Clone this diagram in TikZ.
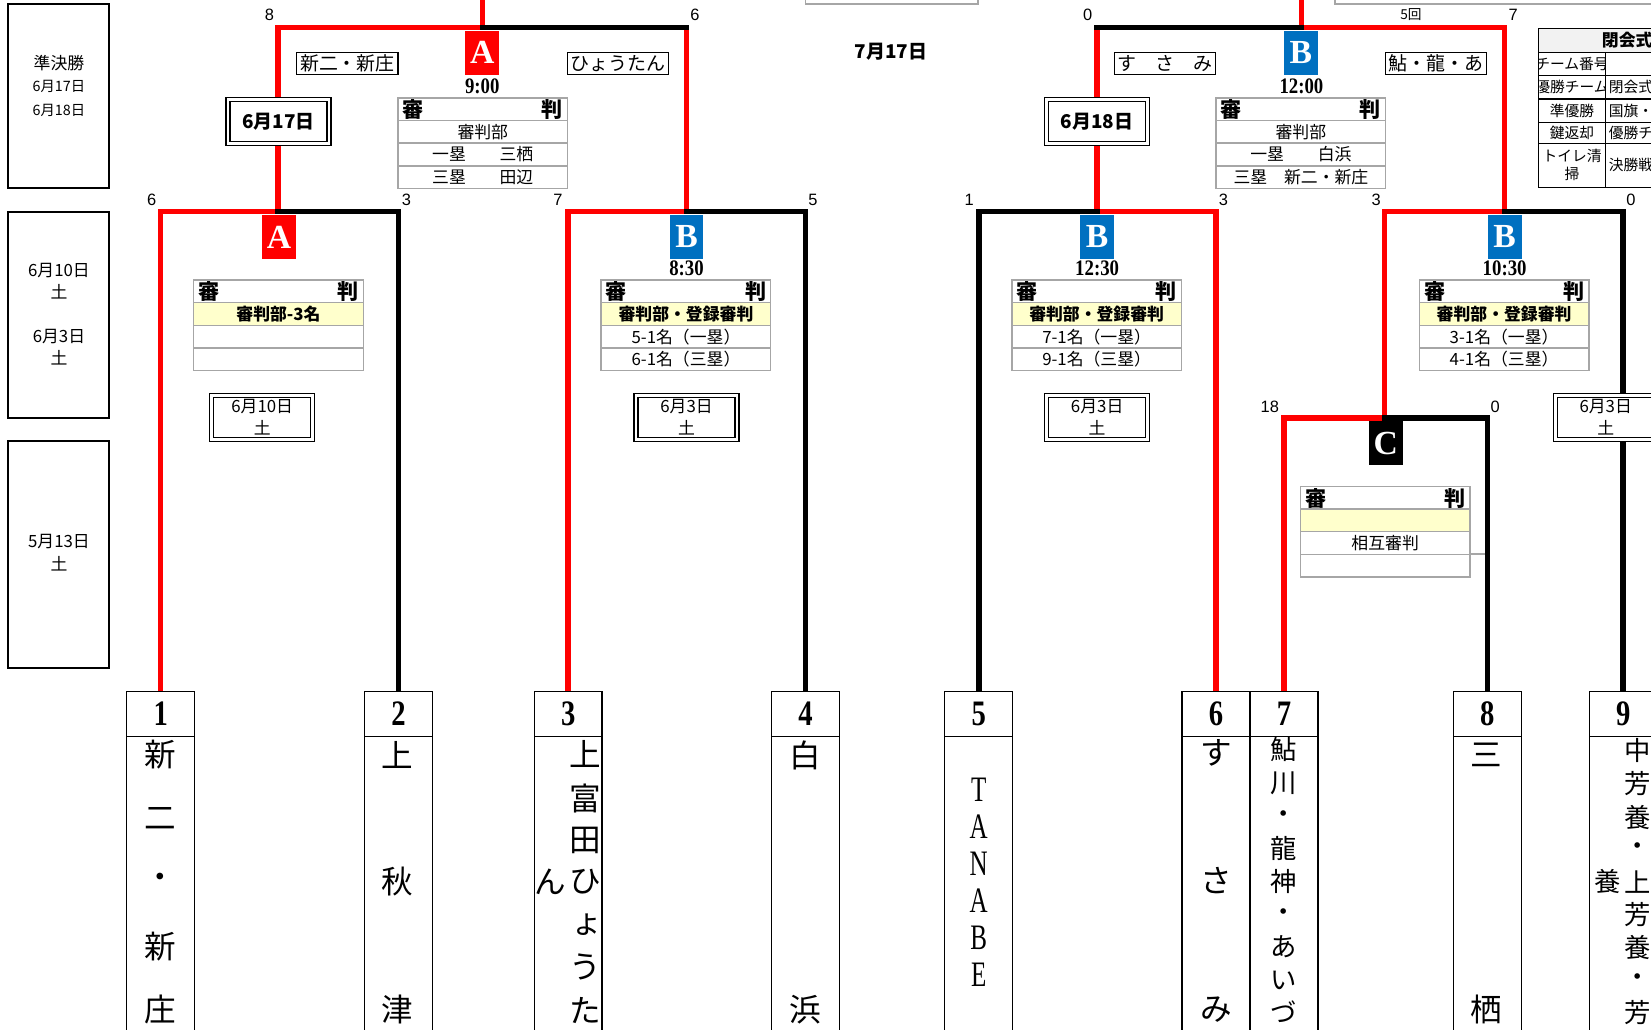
\documentclass[tikz,border=0pt]{standalone}
\usepackage{fontspec}
\setmainfont{Liberation Serif}
\newfontfamily\jp{Noto Sans CJK JP}
\newfontfamily\numf[FakeStretch=0.8]{Liberation Serif}
\newfontfamily\timef[FakeStretch=0.85]{Liberation Serif}
\newfontfamily\narf[FakeStretch=0.7]{Liberation Serif}
\newfontfamily\sansf{Liberation Sans}
\usetikzlibrary{backgrounds}
\definecolor{xred}{HTML}{FF0000}
\definecolor{xblue}{HTML}{0070C0}
\definecolor{xyel}{HTML}{FFFFCC}
\definecolor{xgray}{HTML}{A6A6A6}
\definecolor{hdrgray}{HTML}{F2F2F2}
\newcommand\RefTable[7]{%
  \fill[#4] (#2,#3+21.5) rectangle (#2+161,#3+43);
  \draw[tblline] (#2,#3) rectangle (#2+161,#3+86);
  \draw[tblline] (#2,#3+21.5) -- (#2+161,#3+21.5);
  \draw[tblline] (#2,#3+43) -- (#2+161,#3+43);
  \draw[tblline] (#2,#3+64.5) -- (#2+161,#3+64.5);
  \node[hdr,anchor=west] (#1a) at (#2+4,#3+11) {審};
  \node[hdr,anchor=east] (#1b) at (#2+157,#3+11) {判};
  \node[rowt] (#1c) at (#2+80.5,#3+32.25) {#5};
  \node[rowt] (#1d) at (#2+80.5,#3+53.75) {#6};
  \node[rowt] (#1e) at (#2+80.5,#3+75.25) {#7};
}
\begin{document}
\begin{tikzpicture}[x=0.5pt,y=-0.5pt,
  redln/.style={draw=xred,line width=2.6pt,line join=miter},
  blkln/.style={draw=black,line width=2.6pt,line join=miter,line cap=rect},
  mbox/.style={anchor=north,minimum width=16pt,minimum height=21pt,inner sep=0pt,text=white,font=\bfseries\fontsize{16}{16}\selectfont},
  numcell/.style={draw,line width=0.6pt,fill=white,minimum width=32.25pt,minimum height=21.5pt,inner sep=0pt,anchor=north west,font=\numf\bfseries\fontsize{17}{17}\selectfont},
  namecell/.style={draw,line width=0.6pt,fill=white,minimum width=32.25pt,minimum height=150pt,inner sep=0pt,anchor=north west},
  tch/.style={font=\jp\fontsize{15}{15}\selectfont,inner sep=0pt},
  tchs/.style={font=\jp\fontsize{12.5}{12.5}\selectfont,inner sep=0pt},
  tlat/.style={font=\narf\fontsize{17}{17}\selectfont,inner sep=0pt},
  score/.style={font=\sansf\fontsize{7.8}{7.8}\selectfont,inner sep=0pt},
  timel/.style={font=\timef\bfseries\fontsize{10.5}{10.5}\selectfont,inner sep=0pt},
  lblbox/.style={draw,line width=0.5pt,fill=white,minimum width=48pt,minimum height=10.5pt,inner sep=0pt,font=\jp\fontsize{9}{9}\selectfont},
  datebox/.style={draw,line width=0.7pt,double=white,double distance=1.2pt,fill=white,minimum width=47.9pt,minimum height=20.9pt,inner sep=0pt,align=center,font=\jp\fontsize{8}{10.5}\selectfont},
  colbox/.style={draw,line width=0.9pt},
  coltxt/.style={font=\jp\fontsize{8}{8}\selectfont,inner sep=0pt},
  coltxs/.style={font=\jp\fontsize{6.8}{6.8}\selectfont,inner sep=0pt},
  tblline/.style={draw=xgray,line width=0.7pt},
  hdr/.style={font=\jp\bfseries\fontsize{10}{10}\selectfont,inner sep=0pt},
  rowt/.style={font=\jp\fontsize{8}{8}\selectfont,inner sep=0pt},
  rtxt/.style={font=\jp\fontsize{7}{8.5}\selectfont,inner sep=0pt,align=center},
  rline/.style={draw=black,line width=0.6pt}]
\useasboundingbox (0,0) rectangle (1568,978);
\clip (0,0) rectangle (1568,978);

% partial boxes at the top edge
\draw[tblline] (765,-10) rectangle (929,4);
\draw[tblline] (1268,-10) rectangle (1700,4);

% left column of round dates
\draw[colbox] (7.5,3.8) rectangle (103.5,178.3);
\draw[colbox] (7.5,201) rectangle (103.5,396.7);
\draw[colbox] (7.5,418.5) rectangle (103.5,634);
\node[coltxt] (lc1) at (56,60) {準決勝};
\node[coltxs] (lc2) at (56,82) {6月17日};
\node[coltxs] (lc3) at (56,104.5) {6月18日};
\node[coltxt] (lc4) at (56,256.5) {6月10日};
\node[coltxt] (lc5) at (56,277) {土};
\node[coltxt] (lc6) at (56,320) {6月3日};
\node[coltxt] (lc7) at (56,340) {土};
\node[coltxt] (lc8) at (56,514.5) {5月13日};
\node[coltxt] (lc9) at (56,535) {土};

% junctions
\coordinate (fL) at (458,26);
\coordinate (tL) at (458,-6);
\coordinate (sL2) at (652,26);
\coordinate (mA) at (264,201);
\coordinate (mB1) at (652,201);
\coordinate (fR) at (1236,26);
\coordinate (tR) at (1236,-6);
\coordinate (sR1) at (1042,26);
\coordinate (mB2) at (1042,201);
\coordinate (mB3) at (1429,201);
\coordinate (mC) at (1315,397);

% team boxes
\node[numcell] (n1) at (119.75,656) {1};
\node[numcell] (n2) at (345.75,656) {2};
\node[numcell] (n3) at (506.75,656) {3};
\node[numcell] (n4) at (732.25,656) {4};
\node[numcell] (n5) at (896.75,656) {5};
\node[numcell] (n6) at (1122,656) {6};
\node[numcell] (n7) at (1186.5,656) {7};
\node[numcell] (n8) at (1379.75,656) {8};
\node[numcell] (n9) at (1508.75,656) {9};
\node[namecell] (m1) at (119.75,699) {};
\node[namecell] (m2) at (345.75,699) {};
\node[namecell] (m3) at (506.75,699) {};
\node[namecell] (m4) at (732.25,699) {};
\node[namecell] (m5) at (896.75,699) {};
\node[namecell] (m6) at (1122,699) {};
\node[namecell] (m7) at (1186.5,699) {};
\node[namecell] (m8) at (1379.75,699) {};
\node[namecell] (m9) at (1508.75,699) {};

% bracket lines (behind)
\begin{scope}[on background layer]
\fill[white] (0,0) rectangle (1568,978);
\draw[redln] (n1.north) |- (mA) |- (fL) -- (tL);
\draw[redln] (n3.north) |- (mB1) -- (sL2);
\draw[redln] (n7.north) |- (mC) |- (mB3) |- (fR) -- (tR);
\draw[redln] (n6.north) |- (mB2) -- (sR1);
\draw[blkln] (n2.north) |- (mA);
\draw[blkln] (n4.north) |- (mB1);
\draw[blkln] (sL2) -- (fL);
\draw[blkln] (n5.north) |- (mB2);
\draw[blkln] (n8.north) |- (mC);
\draw[blkln] (n9.north) |- (mB3);
\draw[blkln] (sR1) -- (fR);
\end{scope}

% match letters
\node[mbox,fill=xred] (gA1) at (458,28.6) {A};
\node[mbox,fill=xblue] (gB1) at (1235.5,28.6) {B};
\node[mbox,fill=xred] (gA2) at (265,203.6) {A};
\node[mbox,fill=xblue] (gB2) at (652,203.6) {B};
\node[mbox,fill=xblue] (gB3) at (1042,203.6) {B};
\node[mbox,fill=xblue] (gB4) at (1429,203.6) {B};
\node[mbox,fill=black] (gC) at (1316,399.6) {C};

% times
\node[timel] (tm1) at (458,82) {9:00};
\node[timel] (tm2) at (1236,82) {12:00};
\node[timel] (tm3) at (652,255) {8:30};
\node[timel] (tm4) at (1042,255) {12:30};
\node[timel] (tm5) at (1429,255) {10:30};

% scores
\node[score] (s1) at (256,14.3) {8};
\node[score] (s2) at (660,14.3) {6};
\node[score] (s3) at (1033,14.3) {0};
\node[font=\jp\fontsize{6.5}{6.5}\selectfont,inner sep=0pt] (s4) at (1340,14.3) {5回};
\node[score] (s5) at (1437,14.3) {7};
\node[score] (s6) at (144,190) {6};
\node[score] (s7) at (386,190) {3};
\node[score] (s8) at (530,190) {7};
\node[score] (s9) at (772,190) {5};
\node[score] (s10) at (920.5,190) {1};
\node[score] (s11) at (1162,190) {3};
\node[score] (s12) at (1307,190) {3};
\node[score] (s13) at (1549,190) {0};
\node[score] (s14) at (1206,386.5) {18};
\node[score] (s15) at (1420,386.5) {0};

% day label
\node[font=\jp\bfseries\fontsize{9}{9}\selectfont,inner sep=0pt] (day) at (846,49) {7月17日};

% team short labels
\node[lblbox] (l1) at (330,60.5) {新二・新庄};
\node[lblbox] (l2) at (587,60.5) {ひょうたん};
\node[lblbox] (l3) at (1106.5,60.5) {す　さ　み};
\node[lblbox] (l4) at (1364,60.5) {鮎・龍・あ};

% date boxes
\node[datebox,font=\jp\bfseries\fontsize{9}{9}\selectfont] (d1) at (264.5,115.5) {6月17日};
\node[datebox,font=\jp\bfseries\fontsize{9}{9}\selectfont] (d2) at (1042,115.5) {6月18日};
\node[datebox] (d3) at (249,396.5) {6月10日\\土};
\node[datebox] (d4) at (652,396.5) {6月3日\\土};
\node[datebox] (d5) at (1042,396.5) {6月3日\\土};
\node[datebox] (d6) at (1525,396.5) {6月3日\\土};

% referee tables
\RefTable{rA}{378}{93}{white}{審判部}{一塁　　三栖}{三塁　　田辺}
\RefTable{rB}{1155}{93}{white}{審判部}{一塁　　白浜}{三塁　新二・新庄}
\RefTable{rC}{184}{266}{xyel}{\bfseries 審判部-3名}{}{}
\RefTable{rD}{571}{266}{xyel}{\bfseries 審判部・登録審判}{5-1名（一塁）}{6-1名（三塁）}
\RefTable{rE}{961}{266}{xyel}{\bfseries 審判部・登録審判}{7-1名（一塁）}{9-1名（三塁）}
\RefTable{rF}{1348}{266}{xyel}{\bfseries 審判部・登録審判}{3-1名（一塁）}{4-1名（三塁）}
\RefTable{rG}{1235}{462}{xyel}{}{相互審判}{}
\draw[tblline] (1396,526) -- (1410,526);

% closing ceremony table (cut at the right edge)
\fill[hdrgray] (1461,27) rectangle (1700,50);
\draw[rline] (1461,27) rectangle (1700,178);
\foreach \yy in {50,72,94,116,136} \draw[rline] (1461,\yy) -- (1700,\yy);
\draw[rline] (1525,50) -- (1525,178);
\node[font=\jp\bfseries\fontsize{8}{8}\selectfont,inner sep=0pt,anchor=west] (ch) at (1521,38.5) {閉会式};
\begin{scope}
\clip (1462,50) rectangle (1524.5,136);
\node[rtxt] (cl1) at (1493,61) {チーム番号};
\node[rtxt] (cl2) at (1493,83) {優勝チーム};
\end{scope}
\node[rtxt] (cl3) at (1493,105) {準優勝};
\node[rtxt] (cl4) at (1493,126) {鍵返却};
\node[rtxt] (cl5) at (1493,157) {トイレ清\\掃};
\node[rtxt,anchor=west] (cr2) at (1527.5,83) {閉会式};
\node[rtxt,anchor=west] (cr3) at (1527.5,105) {国旗・};
\node[rtxt,anchor=west] (cr4) at (1527.5,126) {優勝チ};
\node[rtxt,anchor=west] (cr5) at (1527.5,157) {決勝戦};

% team names (vertical)
\foreach \ch/\yy [count=\k] in {新/717,二/777,・/837,新/899,庄/959}
  {\node[tch] (t1c\k) at (152,\yy) {\ch};}
\foreach \ch/\yy [count=\k] in {上/717,秋/837,津/959}
  {\node[tch] (t2c\k) at (377.75,\yy) {\ch};}
\foreach \ch/\yy [count=\k] in {上/716.5,富/758.4,田/798.6,ひ/837.6,う/918.3,た/959.5}
  {\node[tch] (t3c\k) at (555.5,\yy) {\ch};}
\node[tch] (t3s) at (558,878) {ょ};
\node[tch] (t3n) at (522.5,837.6) {ん};
\foreach \ch/\yy [count=\k] in {白/717,浜/959}
  {\node[tch] (t4c\k) at (765,\yy) {\ch};}
\foreach \ch/\yy [count=\k] in {T/750,A/785,N/820,A/855,B/891,E/926}
  {\node[tlat] (t5c\k) at (929.5,\yy) {\ch};}
\foreach \ch/\yy [count=\k] in {す/715,さ/836,み/959}
  {\node[tch] (t6c\k) at (1155,\yy) {\ch};}
\foreach \ch/\yy [count=\k] in {鮎/712,川/744,・/776,龍/806,神/837,・/869,あ/899,い/931,づ/961}
  {\node[tchs] (t7c\k) at (1218.7,\yy) {\ch};}
\foreach \ch/\yy [count=\k] in {三/717,栖/959}
  {\node[tch] (t8c\k) at (1412,\yy) {\ch};}
\foreach \ch/\yy [count=\k] in {中/713,芳/744,養/776,・/806,上/837.6,芳/869,養/899.6,・/931,芳/962}
  {\node[tchs] (t9c\k) at (1555,\yy) {\ch};}
\node[tchs] (t9s) at (1527,837.6) {養};
\end{tikzpicture}
\end{document}
